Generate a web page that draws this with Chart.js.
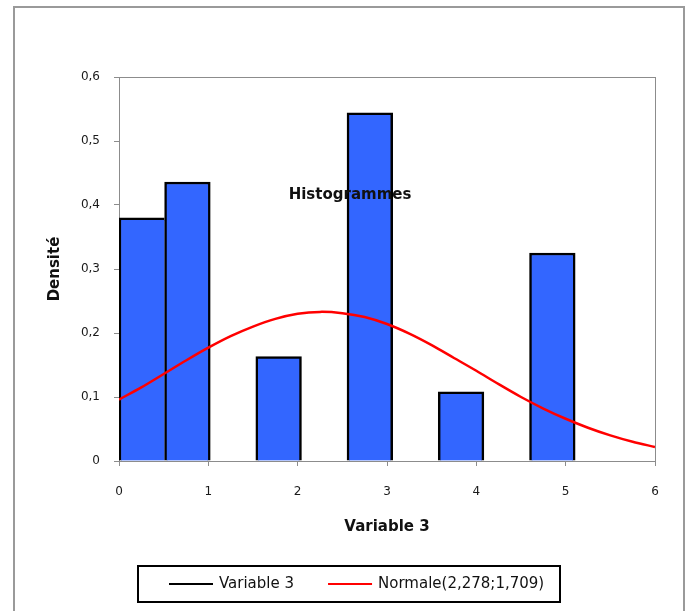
<!DOCTYPE html>
<html>
<head>
<meta charset="utf-8">
<script src="https://cdn.jsdelivr.net/npm/chart.js@4.4.0/dist/chart.umd.min.js"></script>
<style>
    html, body { margin: 0; padding: 0; background: #fff; }
    #wrap { width: 688px; height: 611px; }
</style>
</head>
<body>
<div id="wrap"><canvas id="histChart" width="688" height="611"></canvas></div>
<script>
// --- DATA ---
const binCenters = [0.255, 0.766, 1.787, 2.808, 3.829, 4.851];   // bins of width ~0.51
const binDensity = [0.380, 0.436, 0.163, 0.544, 0.108, 0.325];

const curveX = [0, 0.25, 0.5, 0.75, 1, 1.25, 1.5, 1.75, 2, 2.25, 2.5, 2.75, 3, 3.25, 3.5, 3.75, 4, 4.25, 4.5, 4.75, 5, 5.25, 5.5, 5.75, 6];
const curveY = [0.096, 0.115, 0.136, 0.157, 0.177, 0.195, 0.210, 0.222, 0.230, 0.233, 0.231, 0.225, 0.214, 0.199, 0.181, 0.161, 0.141, 0.120, 0.100, 0.082, 0.066, 0.052, 0.040, 0.030, 0.022];

const xTicks = [0, 1, 2, 3, 4, 5, 6];
const xTickLabels = ['0', '1', '2', '3', '4', '5', '6'];
const yTicks = [0, 0.1, 0.2, 0.3, 0.4, 0.5, 0.6];
const yTickLabels = ['0', '0,1', '0,2', '0,3', '0,4', '0,5', '0,6'];

const seriesNames = ['Variable 3', 'Normale(2,278;1,709)'];
const chartTitle = 'Histogrammes';

const AXIS_GREY = '#8c8c8c';
const TICK_FONT = { family: 'DejaVu Sans', size: 12 };
const BOLD_FONT = { family: 'DejaVu Sans', size: 15, weight: 'bold' };

// --- PLUGINS: outer frame, plot frame, inner title, boxed legend ---
const framePlugin = {
    id: 'frames',
    beforeDraw(chart) {
        const ctx = chart.ctx;
        ctx.save();
        ctx.strokeStyle = '#9a9a9a';
        ctx.lineWidth = 2;
        ctx.strokeRect(14, 7, 670, 640);
        ctx.restore();
    },
    beforeDatasetsDraw(chart) {
        const { ctx, chartArea: a } = chart;
        ctx.save();
        ctx.strokeStyle = AXIS_GREY;
        ctx.lineWidth = 1;
        ctx.strokeRect(a.left + 0.5, a.top + 0.5, a.right - a.left, a.bottom - a.top);
        ctx.restore();
    }
};

const innerTitlePlugin = {
    id: 'innerTitle',
    afterDatasetsDraw(chart) {
        const ctx = chart.ctx;
        ctx.save();
        ctx.font = 'bold 15px "DejaVu Sans"';
        ctx.fillStyle = '#111';
        ctx.textAlign = 'center';
        ctx.textBaseline = 'middle';
        ctx.fillText(chartTitle, 350, 195);
        ctx.restore();
    }
};

const boxLegendPlugin = {
    id: 'boxLegend',
    afterDraw(chart) {
        const ctx = chart.ctx;
        const box = { x: 138, y: 566, w: 422, h: 36 };
        const midY = box.y + box.h / 2;
        ctx.save();
        ctx.strokeStyle = '#000';
        ctx.lineWidth = 2;
        ctx.strokeRect(box.x, box.y, box.w, box.h);

        ctx.font = '15px "DejaVu Sans"';
        ctx.textBaseline = 'middle';
        ctx.fillStyle = '#111';
        let x = box.x + 31;
        const colors = ['#000000', '#ff0000'];
        seriesNames.forEach((name, i) => {
            ctx.strokeStyle = colors[i];
            ctx.lineWidth = 2;
            ctx.beginPath();
            ctx.moveTo(x, midY);
            ctx.lineTo(x + 44, midY);
            ctx.stroke();
            ctx.fillText(name, x + 50, midY);
            x += 50 + ctx.measureText(name).width + 34;
        });
        ctx.restore();
    }
};

// --- CHART ---
const ctx = document.getElementById('histChart').getContext('2d');
new Chart(ctx, {
    type: 'bar',
    data: {
        datasets: [
            {
                type: 'line',
                label: seriesNames[1],
                data: curveX.map((x, i) => ({ x: x, y: curveY[i] })),
                borderColor: '#ff0000',
                borderWidth: 2.5,
                pointRadius: 0,
                tension: 0.3,
                fill: false,
                order: 0
            },
            {
                label: seriesNames[0],
                data: binCenters.map((x, i) => ({ x: x, y: binDensity[i] })),
                backgroundColor: '#3366ff',
                borderColor: '#000000',
                // first bar touches the second one: drop its right edge so the shared edge stays single
                borderWidth: c => c.dataIndex === 0 ? { top: 2.5, left: 2.5, right: 0, bottom: 0 } : 2.5,
                barPercentage: 1,
                categoryPercentage: 1,
                order: 1
            }
        ]
    },
    options: {
        responsive: false,
        animation: false,
        layout: { padding: { left: 0, top: 77, right: 33, bottom: 0 } },
        plugins: {
            legend: { display: false },
            tooltip: { enabled: false }
        },
        scales: {
            x: {
                type: 'linear',
                min: 0,
                max: 6,
                offset: false,
                afterBuildTicks: s => { s.ticks = xTicks.map(v => ({ value: v })); },
                afterFit: s => { s.height = 150; },
                grid: { display: true, drawOnChartArea: false, drawTicks: true, tickLength: 5, color: AXIS_GREY, offset: false },
                border: { color: AXIS_GREY, width: 1 },
                ticks: {
                    font: TICK_FONT,
                    color: '#1a1a1a',
                    padding: 19,
                    maxRotation: 0,
                    callback: (v, i) => xTickLabels[i]
                },
                title: {
                    display: true,
                    text: 'Variable 3',
                    font: BOLD_FONT,
                    color: '#111',
                    padding: { top: 0, bottom: 75 }
                }
            },
            y: {
                min: 0,
                max: 0.6,
                afterBuildTicks: s => { s.ticks = yTicks.map(v => ({ value: v })); },
                afterFit: s => { s.width = 119; },
                grid: { display: true, drawOnChartArea: false, drawTicks: true, tickLength: 5, color: AXIS_GREY },
                border: { color: AXIS_GREY, width: 1 },
                ticks: {
                    font: TICK_FONT,
                    color: '#1a1a1a',
                    padding: 14,
                    callback: (v, i) => yTickLabels[i]
                },
                title: {
                    display: true,
                    text: 'Densité',
                    font: BOLD_FONT,
                    color: '#111',
                    padding: { top: 46, bottom: 0 }
                }
            }
        }
    },
    plugins: [framePlugin, innerTitlePlugin, boxLegendPlugin]
});
</script>
</body>
</html>
